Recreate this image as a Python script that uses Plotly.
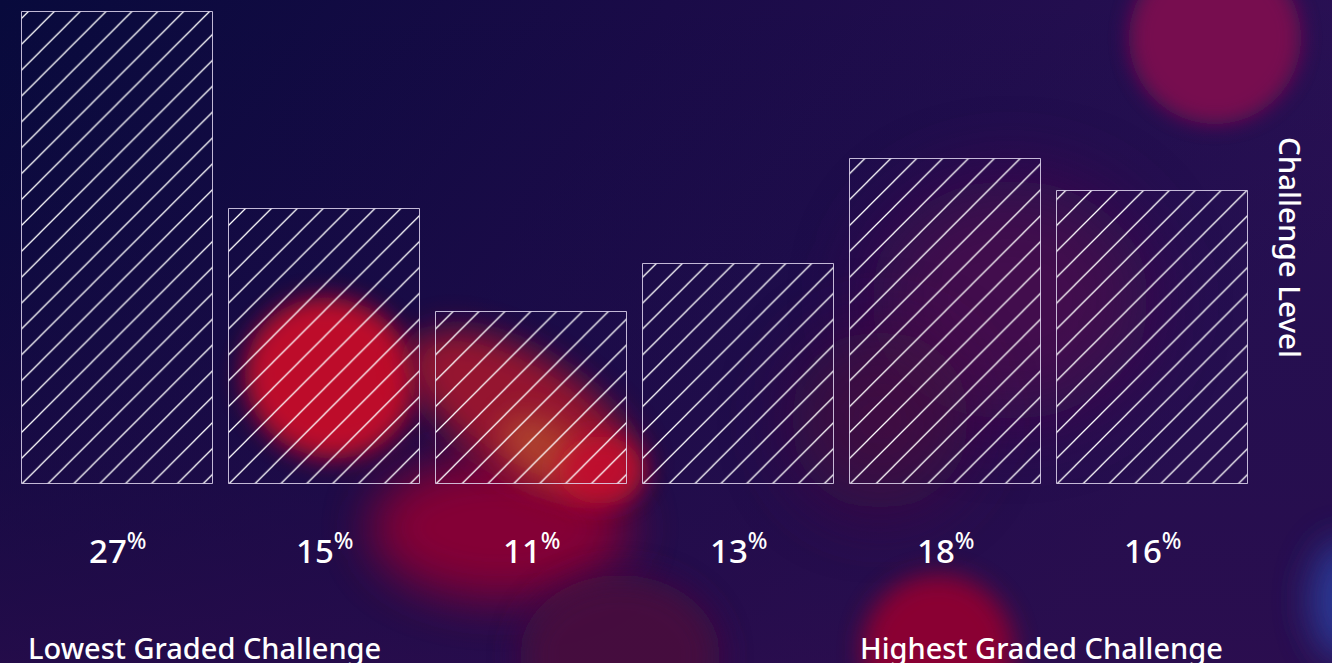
import base64
import plotly.graph_objects as go

# ---- data ----
categories = ["Grade 1", "Grade 2", "Grade 3", "Grade 4", "Grade 5", "Grade 6"]
challenge_level = [27.0, 15.75, 9.85, 12.6, 18.6, 16.75]   # bar heights (relative challenge level)
share_pct = [27, 15, 11, 13, 18, 16]                        # labels under bars
left_label = "Lowest Graded Challenge"
right_label = "Highest Graded Challenge"
axis_label = "Challenge Level"

W, H = 1332, 663
ML, MR, MT, MB = 14, 76, 0, 179
PW, PH = W - ML - MR, H - MT - MB


def px_x(px):
    return (px - ML) / PW


def px_y(py):
    return (H - MB - py) / PH


# ---- background (bokeh) as SVG ----
blobs = [
    # cx, cy, rx, ry, rot, color, opacity, blur
    (1010, 300, 140, 120, 0, "#4e0f4e", 0.75, 40),
    (880, 420, 90, 90, 0, "#4a0a3e", 0.7, 35),
    (500, 528, 130, 72, 0, "#8a0534", 0.95, 24),
    (620, 655, 100, 80, 0, "#4a0a3c", 0.9, 16),
    (330, 378, 86, 80, 20, "#c3082c", 0.97, 12),
    (525, 415, 130, 58, 32, "#a0142f", 0.92, 16),
    (545, 450, 50, 28, 32, "#b2482e", 0.8, 14),
    (600, 470, 42, 34, 0, "#c20a2e", 0.9, 12),
    (1215, 38, 86, 86, 0, "#7b0f50", 0.95, 10),
    (938, 650, 76, 76, 0, "#900533", 0.95, 12),
    (1345, 600, 35, 60, 0, "#2b3d9c", 0.9, 18),
]
parts = []
for i, (cx, cy, rx, ry, rot, col, op, bl) in enumerate(blobs):
    parts.append(
        f"<filter id='f{i}' x='-100%' y='-100%' width='300%' height='300%'>"
        f"<feGaussianBlur stdDeviation='{bl}'/></filter>"
    )
defs = "".join(parts)
shapes_svg = "".join(
    f"<ellipse cx='{cx}' cy='{cy}' rx='{rx}' ry='{ry}' fill='{col}' opacity='{op}' "
    f"transform='rotate({rot} {cx} {cy})' filter='url(#f{i})'/>"
    for i, (cx, cy, rx, ry, rot, col, op, bl) in enumerate(blobs)
)
svg = (
    f"<svg xmlns='http://www.w3.org/2000/svg' width='{W}' height='{H}' viewBox='0 0 {W} {H}'>"
    "<defs>"
    "<linearGradient id='g' x1='0' y1='0' x2='1' y2='0.35'>"
    "<stop offset='0' stop-color='#080a3c'/>"
    "<stop offset='0.45' stop-color='#1a0b48'/>"
    "<stop offset='1' stop-color='#2c1156'/>"
    "</linearGradient>"
    "<linearGradient id='g2' x1='0' y1='0' x2='0' y2='1'>"
    "<stop offset='0' stop-color='#0a0a3e' stop-opacity='0'/>"
    "<stop offset='1' stop-color='#2a0c4c' stop-opacity='0.7'/>"
    "</linearGradient>"
    + defs +
    "</defs>"
    f"<rect width='{W}' height='{H}' fill='url(#g)'/>"
    f"<rect width='{W}' height='{H}' fill='url(#g2)'/>"
    + shapes_svg +
    "</svg>"
)
bg_src = "data:image/svg+xml;base64," + base64.b64encode(svg.encode()).decode()

fig = go.Figure()
fig.add_trace(
    go.Bar(
        x=list(range(len(categories))),
        y=challenge_level,
        width=0.9227,
        marker=dict(
            color="rgba(0,0,0,0)",
            line=dict(color="rgba(225,215,240,0.85)", width=1),
            pattern=dict(
                shape="/",
                size=18.3,
                solidity=0.07,
                fgcolor="#ffffff",
                fgopacity=1,
                bgcolor="rgba(0,0,0,0)",
                fillmode="overlay",
            ),
        ),
        hoverinfo="skip",
        showlegend=False,
    )
)

annotations = []
for i, v in enumerate(share_pct):
    annotations.append(
        dict(
            x=i, xref="x", y=px_y(548), yref="paper",
            text=f"{v}<sup>%</sup>", showarrow=False,
            font=dict(family="Noto Sans", size=33, color="white", weight=500),
            xanchor="center", yanchor="middle",
        )
    )
annotations.append(
    dict(x=px_x(26), y=px_y(647), xref="paper", yref="paper", text=left_label,
         showarrow=False, xanchor="left", yanchor="middle",
         font=dict(family="Noto Sans", size=29, color="white", weight=500))
)
annotations.append(
    dict(x=px_x(858), y=px_y(647), xref="paper", yref="paper", text=right_label,
         showarrow=False, xanchor="left", yanchor="middle",
         font=dict(family="Noto Sans", size=29, color="white", weight=500))
)
annotations.append(
    dict(x=px_x(1291), y=px_y(248), xref="paper", yref="paper", text=axis_label,
         showarrow=False, textangle=90, xanchor="center", yanchor="middle",
         font=dict(family="Noto Sans", size=29.5, color="white", weight=500))
)

fig.update_layout(
    width=W, height=H,
    margin=dict(l=ML, r=MR, t=MT, b=MB, pad=0),
    paper_bgcolor="#160b45",
    plot_bgcolor="rgba(0,0,0,0)",
    xaxis=dict(range=[-0.5, len(categories) - 0.5], visible=False, fixedrange=True),
    yaxis=dict(range=[0, PH / (471.7 / 27.0)], visible=False, fixedrange=True),
    images=[dict(
        source=bg_src, xref="paper", yref="paper",
        x=-ML / PW, y=1 + MT / PH, sizex=W / PW, sizey=H / PH,
        xanchor="left", yanchor="top", sizing="stretch", layer="below",
    )],
    annotations=annotations,
    bargap=0,
)

fig.write_html("out.html", config=dict(displayModeBar=False))
